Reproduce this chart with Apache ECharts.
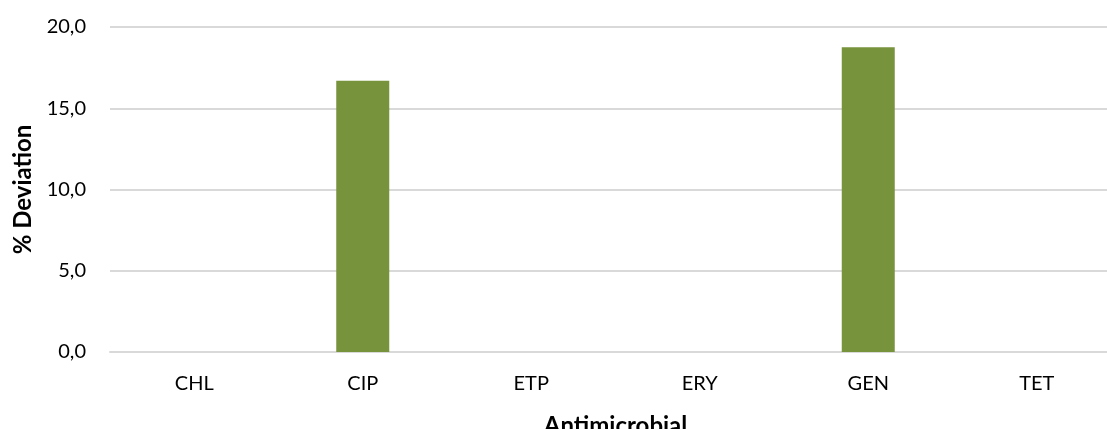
<!DOCTYPE html>
<html>
<head>
<meta charset="utf-8">
<script src="https://cdn.jsdelivr.net/npm/echarts@6/dist/echarts.min.js"></script>
<style>
html,body{margin:0;padding:0;background:#fff;}
#chart{width:1107px;height:429px;}
</style>
</head>
<body>
<div id="chart"></div>
<script>
var categories = ['CHL', 'CIP', 'ETP', 'ERY', 'GEN', 'TET'];
var deviation = [0, 16.7, 0, 0, 18.75, 0];
var yTicks = { min: 0, max: 20, interval: 5 };
var xTitle = 'Antimicrobial';
var yTitle = '% Deviation';

var font = 'Lato, "Open Sans", sans-serif';
var chart = echarts.init(document.getElementById('chart'), null, { renderer: 'canvas' });
chart.setOption({
  animation: false,
  backgroundColor: '#ffffff',
  grid: { left: 110, top: 27, bottom: 77, width: 1011, containLabel: false, outerBoundsMode: 'none' },
  xAxis: {
    type: 'category',
    data: categories,
    name: xTitle,
    nameLocation: 'middle',
    nameGap: 62,
    nameTextStyle: { fontFamily: font, fontSize: 24, fontWeight: 'bold', color: '#000' },
    axisLine: { show: true, lineStyle: { color: '#d9d9d9', width: 2 } },
    axisTick: { show: false },
    axisLabel: { fontFamily: font, fontSize: 20, color: '#000', margin: 22 }
  },
  yAxis: {
    type: 'value',
    min: yTicks.min,
    max: yTicks.max,
    interval: yTicks.interval,
    name: yTitle,
    nameLocation: 'middle',
    nameGap: 74,
    nameTextStyle: { fontFamily: font, fontSize: 24, fontWeight: 'bold', color: '#000' },
    axisLine: { show: false },
    axisTick: { show: false },
    axisLabel: {
      fontFamily: font, fontSize: 20, color: '#000', margin: 24,
      formatter: function (v) { return v.toFixed(1).replace('.', ','); }
    },
    splitLine: { show: true, lineStyle: { color: '#d9d9d9', width: 2 } }
  },
  series: [{
    type: 'bar',
    data: deviation,
    barWidth: 53,
    itemStyle: { color: '#77933c' }
  }]
});
</script>
</body>
</html>
